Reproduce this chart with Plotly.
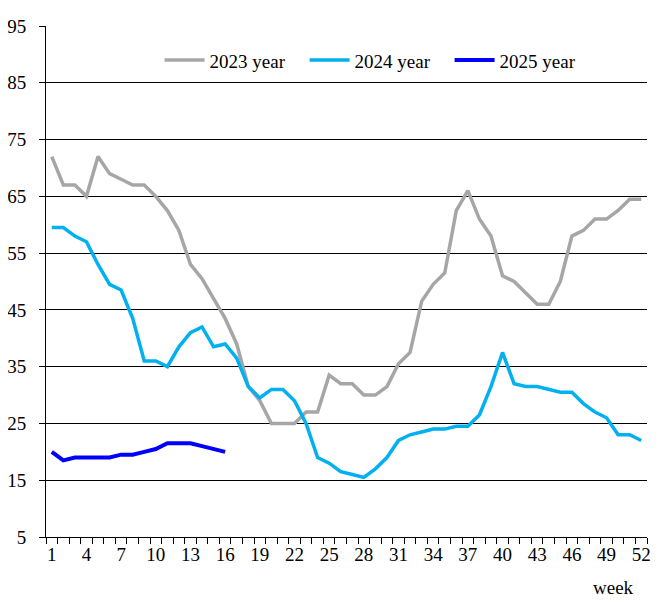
import plotly.graph_objects as go

weeks = list(range(1, 53))

y2023 = [72, 67, 67, 65, 72, 69, 68, 67, 67, 65, 62.5, 59, 53, 50.5, 47, 43.5,
         39, 31.5, 29, 25, 25, 25, 27, 27, 33.5, 32, 32, 30, 30, 31.5, 35.5, 37.5,
         46.5, 49.5, 51.5, 62.5, 66, 61, 58, 51, 50, 48, 46, 46, 50, 58,
         59, 61, 61, 62.5, 64.5, 64.5]

y2024 = [59.5, 59.5, 58, 57, 53, 49.5, 48.5, 43.5, 36, 36, 35, 38.5, 41, 42, 38.5, 39,
         36.5, 31.5, 29.5, 31, 31, 29, 25, 19, 18, 16.5, 16, 15.5, 17, 19, 22, 23,
         23.5, 24, 24, 24.5, 24.5, 26.5, 31.5, 37.5, 32, 31.5, 31.5, 31, 30.5, 30.5,
         28.5, 27, 26, 23, 23, 22]

weeks2025 = list(range(1, 17))
y2025 = [20, 18.5, 19, 19, 19, 19, 19.5, 19.5, 20, 20.5, 21.5, 21.5, 21.5, 21, 20.5, 20]

series_names = ["2023 year", "2024 year", "2025 year"]
series_colors = ["#A6A6A6", "#00B0F0", "#0000FF"]

x_tick_vals = list(range(1, 53, 3))
y_tick_vals = list(range(5, 96, 10))

FONT = "'Times New Roman', 'Liberation Serif', 'DejaVu Serif', serif"
FS = 19

fig = go.Figure()
fig.add_trace(go.Scatter(x=weeks, y=y2023, mode="lines", name=series_names[0],
                         line=dict(color=series_colors[0], width=3.5)))
fig.add_trace(go.Scatter(x=weeks, y=y2024, mode="lines", name=series_names[1],
                         line=dict(color=series_colors[1], width=3.5)))
fig.add_trace(go.Scatter(x=weeks2025, y=y2025, mode="lines", name=series_names[2],
                         line=dict(color=series_colors[2], width=4)))

fig.update_layout(
    width=665, height=606,
    margin=dict(l=38, r=26, t=18, b=77),
    paper_bgcolor="white", plot_bgcolor="white",
    font=dict(family=FONT, size=FS, color="black"),
    showlegend=True,
    legend=dict(orientation="h", x=0.189, y=0.933, xanchor="left", yanchor="middle",
                bgcolor="rgba(255,255,255,0)", font=dict(family=FONT, size=FS),
                itemwidth=40, entrywidth=90, entrywidthmode="pixels",
                traceorder="normal"),
    xaxis=dict(range=[0.5, 52.5], tickmode="array", tickvals=x_tick_vals,
               ticks="", showgrid=False, zeroline=False, showline=True,
               linecolor="black", linewidth=1, automargin=False,
               minor=dict(tickmode="array",
                          tickvals=[w - 0.5 for w in weeks] + [52.5],
                          ticks="outside", ticklen=6, tickcolor="black", showgrid=False),
               ticklabelstandoff=0),
    yaxis=dict(range=[5, 95], tickmode="array", tickvals=y_tick_vals,
               ticks="outside", ticklen=6, tickcolor="black", automargin=False,
               showgrid=True, gridcolor="black", gridwidth=1, zeroline=False,
               showline=True, linecolor="black", linewidth=1,
               ticklabelstandoff=9),
    annotations=[dict(text="week", xref="paper", yref="paper", x=0.945, y=-0.099,
                      xanchor="center", yanchor="middle", showarrow=False,
                      font=dict(family=FONT, size=FS))],
)

fig.write_html("out.html")
